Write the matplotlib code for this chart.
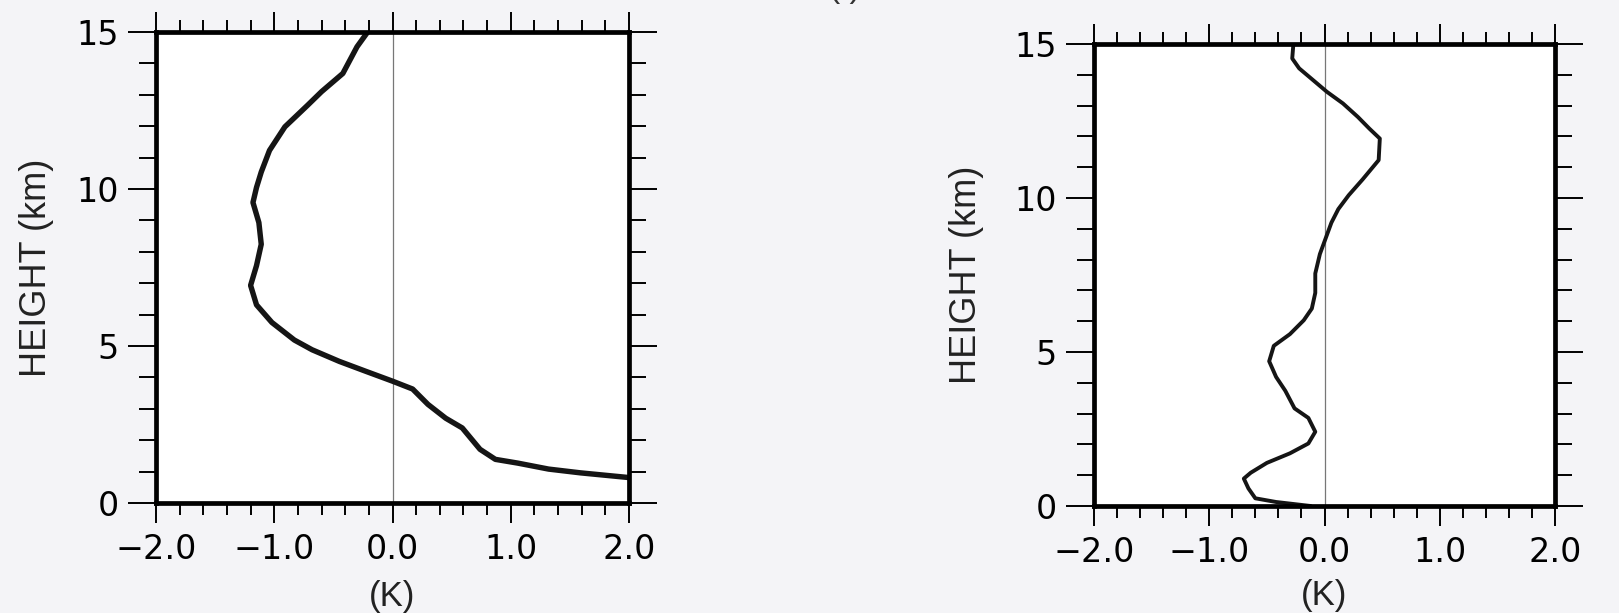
import matplotlib
matplotlib.use("Agg")
import matplotlib.pyplot as plt
from matplotlib.ticker import MultipleLocator, FixedLocator, FuncFormatter

# ---------------- data ----------------
left_x = [-0.21, -0.30, -0.42, -0.60, -0.72, -0.91, -1.04, -1.11, -1.15, -1.18,
          -1.13, -1.11, -1.15, -1.20, -1.15, -1.02, -0.83, -0.68, -0.45, -0.23,
          0.00, 0.17, 0.30, 0.45, 0.59, 0.74, 0.87, 1.06, 1.32, 1.59, 2.00]
left_h = [15.0, 14.53, 13.68, 13.10, 12.66, 11.98, 11.23, 10.54, 10.05, 9.57,
          8.93, 8.24, 7.56, 6.93, 6.31, 5.75, 5.19, 4.88, 4.51, 4.20,
          3.88, 3.63, 3.14, 2.70, 2.39, 1.71, 1.39, 1.27, 1.08, 0.96, 0.81]

right_x = [-0.27, -0.28, -0.22, -0.10, 0.02, 0.16, 0.29, 0.39, 0.48, 0.47,
           0.33, 0.21, 0.12, 0.06, 0.01, -0.04, -0.08, -0.08, -0.11, -0.18,
           -0.30, -0.44, -0.48, -0.42, -0.34, -0.26, -0.14, -0.08, -0.14, -0.30,
           -0.50, -0.64, -0.70, -0.66, -0.60, -0.42, -0.12]
right_h = [15.0, 14.53, 14.21, 13.83, 13.45, 13.07, 12.63, 12.25, 11.93, 11.23,
           10.60, 10.09, 9.64, 9.20, 8.69, 8.18, 7.55, 6.92, 6.41, 6.03,
           5.58, 5.20, 4.70, 4.19, 3.74, 3.17, 2.86, 2.41, 2.03, 1.71,
           1.40, 1.08, 0.89, 0.57, 0.25, 0.13, 0.00]

x_ticks = [-2.0, -1.0, 0.0, 1.0, 2.0]
y_ticks = [0, 5, 10, 15]
x_label = "(K)"
y_label = "HEIGHT (km)"

# ---------------- figure ----------------
fig = plt.figure(figsize=(16.19, 6.13), dpi=100, facecolor="#f4f4f7")

panels = [
    dict(rect=[156/1619, 110/613, 473/1619, 471/613], x=left_x, h=left_h, lw=3.9,
         ylab_x=(37-156)/473, xlab_y=-0.163),
    dict(rect=[1094/1619, 107/613, 461/1619, 462/613], x=right_x, h=right_h, lw=2.8,
         ylab_x=(966-1094)/461, xlab_y=-0.158),
]

TICK_FS = 24

for p in panels:
    ax = fig.add_axes(p["rect"])
    ax.set_facecolor("white")
    ax.set_xlim(-2, 2)
    ax.set_ylim(0, 15)
    ax.axvline(0, color="#777777", lw=0.9, zorder=1)
    ax.plot(p["x"], p["h"], color="#151515", lw=p["lw"], solid_joinstyle="round",
            solid_capstyle="round", zorder=3, clip_on=True)

    for s in ax.spines.values():
        s.set_linewidth(3.4)
        s.set_color("black")
        s.set_zorder(4)

    ax.xaxis.set_major_locator(FixedLocator(x_ticks))
    ax.xaxis.set_minor_locator(MultipleLocator(0.2))
    ax.yaxis.set_major_locator(FixedLocator(y_ticks))
    ax.yaxis.set_minor_locator(MultipleLocator(1))
    ax.xaxis.set_major_formatter(FuncFormatter(lambda v, pos: f"{v:.1f}".replace("-", "\u2212")))
    ax.yaxis.set_major_formatter(FuncFormatter(lambda v, pos: f"{int(round(v))}"))

    ax.tick_params(axis="x", which="major", direction="out", length=14.5, width=1.4,
                   top=True, bottom=True, pad=7, labelsize=TICK_FS, colors="black")
    ax.tick_params(axis="x", which="minor", direction="out", length=8.5, width=1.4,
                   top=True, bottom=True)
    ax.tick_params(axis="y", which="major", direction="out", length=20, width=1.4,
                   left=True, right=True, pad=7, labelsize=TICK_FS, colors="black")
    ax.tick_params(axis="y", which="minor", direction="out", length=12, width=1.4,
                   left=True, right=True)
    for lab in ax.get_xticklabels() + ax.get_yticklabels():
        lab.set_fontfamily("DejaVu Sans")

    ax.set_ylabel(y_label, family="Liberation Sans", fontsize=26, color="#222222",
                  va="center")
    ax.yaxis.set_label_coords(p["ylab_x"], 0.5)
    ax.set_xlabel(x_label, family="Liberation Sans", fontsize=25, color="#222222",
                  va="top")
    ax.xaxis.set_label_coords(0.5, p["xlab_y"])

# partially visible panel tag at the very top (cut off in the reference too)
fig.text(845/1619, 1.0 + 12/613, "( )", ha="center", va="center",
         family="Liberation Sans", fontsize=24, color="#333333")

fig.savefig("out.png", dpi=100, facecolor=fig.get_facecolor())
